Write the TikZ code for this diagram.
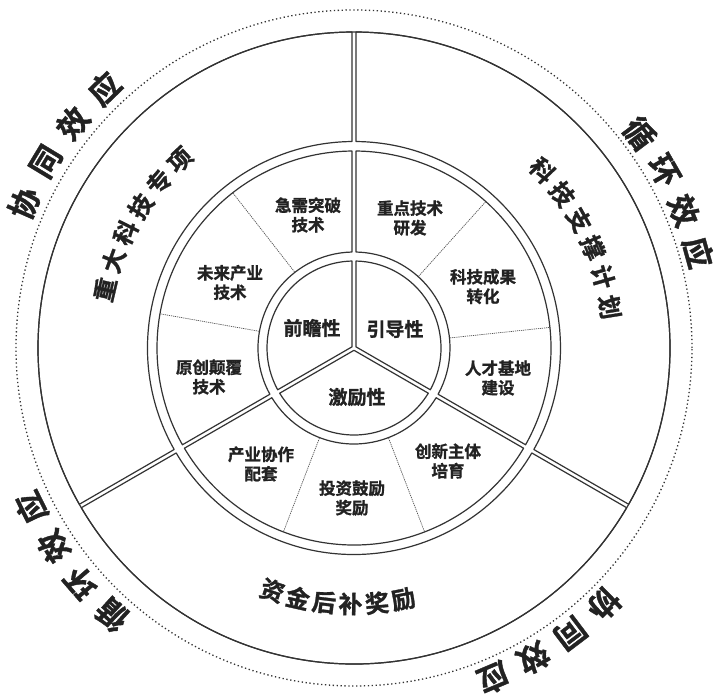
\documentclass[tikz,border=0pt]{standalone}
\usepackage{fontspec}
\newfontfamily\cjk{Noto Sans CJK SC}[BoldFont={Noto Sans CJK SC Bold},BoldFeatures={FakeBold=1.2}]
\definecolor{ln}{HTML}{333333}
\definecolor{tx}{HTML}{222222}
\tikzset{
 ringline/.style={draw=ln, line width=1.2pt, line join=round},
 subline/.style={draw=ln!85, line width=0.7pt, dash pattern=on 1.2pt off 0.9pt},
 outdots/.style={draw=ln, line width=1.3pt, dash pattern=on 1.3pt off 2.6pt},
 ctext/.style={font=\cjk\bfseries\fontsize{19}{22}\selectfont, text=tx, inner sep=0pt},
 mtext/.style={font=\cjk\bfseries\fontsize{16.5}{19.5}\selectfont, text=tx, align=center, inner sep=0pt},
 rtext/.style={font=\cjk\bfseries\fontsize{24}{24}\selectfont, text=tx, inner sep=0pt},
 btext/.style={font=\cjk\bfseries\fontsize{31}{31}\selectfont, text=tx, inner sep=0pt},
}
\def\hw{2}
% annular sector between divider rays a1<a2, radii r1<r2
\newcommand\annsec[4]{%
  \pgfmathsetmacro\dO{asin(\hw/#4)}%
  \pgfmathsetmacro\dI{asin(\hw/#3)}%
  \draw[ringline] ({#1+\dO}:#4) arc[start angle={#1+\dO}, end angle={#2-\dO}, radius=#4]
     -- ({#2-\dI}:#3) arc[start angle={#2-\dI}, end angle={#1+\dI}, radius=#3] -- cycle;}
% central sector
\newcommand\censec[3]{%
  \pgfmathsetmacro\dO{asin(\hw/#3)}%
  \pgfmathsetmacro\cc{\hw/sin(60)}%
  \draw[ringline] ({#1+\dO}:#3) arc[start angle={#1+\dO}, end angle={#2-\dO}, radius=#3]
     -- ({(#1+#2)/2}:\cc) -- cycle;}
% text along an arc, one node per character
\newcommand\arctext[7]{%
  \foreach \ch [count=\i from 0] in {#7}{%
    \pgfmathsetmacro\ang{#4+(#5)*\i}%
    \node[#2, rotate={\ang+(#6)}] (#1\i) at (\ang:#3) {\ch};}}
\begin{document}
\begin{tikzpicture}[x=1pt,y=1pt]
\useasboundingbox (-354,-348) rectangle (369,348);
\fill[white] (-354,-348) rectangle (369,348);
% centre
\censec{-30}{90}{87}
\censec{90}{210}{87}
\censec{210}{330}{87}
% middle ring
\annsec{-30}{90}{96}{197}
\annsec{90}{210}{96}{197}
\annsec{210}{330}{96}{197}
% outer ring
\annsec{-30}{90}{206.5}{316}
\annsec{90}{210}{206.5}{316}
\annsec{210}{330}{206.5}{316}
\draw[ringline] (0,0) circle[radius=316];
\draw[outdots] (0,0) circle[radius=338];
% sub-dividers
\foreach \a in {48,6,128,170,249,291}
  \draw[subline] (\a:96.6) -- (\a:196.4);
% centre labels
\node[ctext] (qz) at (-42,20) {前瞻性};
\node[ctext] (yd) at (41,19) {引导性};
\node[ctext] (jl) at (3,-49) {激励性};
% middle labels
\node[mtext] (m1) at (-46,133) {急需突破\\技术};
\node[mtext] (m2) at (-124,65.5) {未来产业\\技术};
\node[mtext] (m3) at (-145,-29) {原创颠覆\\技术};
\node[mtext] (m4) at (56,130) {重点技术\\研发};
\node[mtext] (m5) at (129,61.5) {科技成果\\转化};
\node[mtext] (m6) at (144,-30) {人才基地\\建设};
\node[mtext] (m7) at (94,-113) {创新主体\\培育};
\node[mtext] (m8) at (-2,-150) {投资鼓励\\奖励};
\node[mtext] (m9) at (-93,-116) {产业协作\\配套};
% outer ring labels
\arctext{zd}{rtext}{256}{166.8}{-6.8}{-90}{重,大,科,技,专,项}
\arctext{kj}{rtext}{259}{43.3}{-6.84}{-90}{科,技,支,撑,计,划}
\arctext{zj}{rtext}{256}{251.4}{5.94}{90}{资,金,后,补,奖,励}
% outside labels
\arctext{xta}{btext}{360}{156.3}{-7.47}{-90}{协,同,效,应}
\arctext{xha}{btext}{357}{36.9}{-7.13}{-90}{循,环,效,应}
\arctext{xhb}{btext}{360}{227.8}{-7.17}{-90}{循,环,效,应}
\arctext{xtb}{btext}{358}{314.3}{-7.13}{-90}{协,同,效,应}
\end{tikzpicture}
\end{document}
